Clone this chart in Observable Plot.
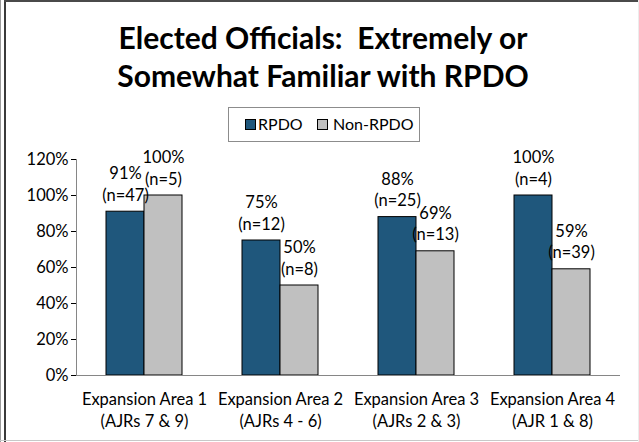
<!DOCTYPE html>
<html>
<head>
<meta charset="utf-8">
<script src="https://cdn.jsdelivr.net/npm/d3@7"></script>
<script src="https://cdn.jsdelivr.net/npm/@observablehq/plot@0.6"></script>
<style>
  html, body { margin: 0; padding: 0; background: #fff; }
  #wrap { position: relative; width: 639px; height: 442px; overflow: hidden; background: #fff; font-family: Lato, sans-serif; }
  .edge { position: absolute; }
  #title { position: absolute; left: 0; width: 646px; top: 18px; text-align: center; font-weight: bold; font-size: 30px; line-height: 38px; color: #000; white-space: nowrap; }
  #legend { position: absolute; left: 228px; top: 107px; width: 190px; height: 33px; border: 1px solid #8c8c8c; box-sizing: content-box; font-size: 16px; }
  .sw { position: absolute; top: 11px; width: 9px; height: 9px; border: 1px solid #000; }
  .lt { position: absolute; top: 7px; line-height: 18px; }
  #chart { position: absolute; left: 0; top: 145px; }
  #chart svg line, #chart svg path.domain { stroke: #868686; }
</style>
</head>
<body>
<div id="wrap">
  <div class="edge" style="left:0;top:0;width:1px;height:442px;background:#9a9a9a"></div>
  <div class="edge" style="left:4px;top:0;width:2px;height:442px;background:#3a3a3a"></div>
  <div class="edge" style="left:4px;top:0;width:635px;height:2px;background:#4a4a4a"></div>
  <div class="edge" style="left:0;top:440px;width:639px;height:1px;background:#c8c8c8"></div>
  <div class="edge" style="left:638px;top:0;width:1px;height:442px;background:#ececec"></div>
  <div id="title"></div>
  <div id="legend"></div>
  <div id="chart"></div>
</div>
<script>
const titleLines = ["Elected Officials:\u00a0 Extremely or", "Somewhat Familiar with RPDO"];
const categories = ["Expansion Area 1", "Expansion Area 2", "Expansion Area 3", "Expansion Area 4"];
const subLabels = ["(AJRs 7 & 9)", "(AJRs 4 - 6)", "(AJRs 2 & 3)", "(AJR 1 & 8)"];
const series = ["RPDO", "Non-RPDO"];
const colors = ["#1f577c", "#c0c0c0"];
const rpdoValues = [91, 75, 88, 100];
const rpdoN = [47, 12, 25, 4];
const nonRpdoValues = [100, 50, 69, 59];
const nonRpdoN = [5, 8, 13, 39];
const yTicks = [0, 20, 40, 60, 80, 100, 120];

const data = [];
categories.forEach((c, i) => {
  data.push({category: c, series: series[0], value: rpdoValues[i], n: rpdoN[i]});
  data.push({category: c, series: series[1], value: nonRpdoValues[i], n: nonRpdoN[i]});
});

document.getElementById("title").innerHTML = titleLines.join("<br>");

const legend = document.getElementById("legend");
const legendPos = [[16, 29], [88, 104]];
series.forEach((s, i) => {
  const sw = document.createElement("div");
  sw.className = "sw";
  sw.style.left = legendPos[i][0] + "px";
  sw.style.background = colors[i];
  legend.appendChild(sw);
  const t = document.createElement("div");
  t.className = "lt";
  t.style.left = legendPos[i][1] + "px";
  t.textContent = s;
  legend.appendChild(t);
});

const W = 639, H = 297, mL = 75, mR = 19, mT = 14, mB = 67;
const halfBand = (W - mL - mR) / categories.length / 2;

const plot = Plot.plot({
  width: W,
  height: H,
  marginLeft: mL,
  marginRight: mR,
  marginTop: mT,
  marginBottom: mB,
  style: {fontFamily: "Lato, sans-serif", fontSize: "16.5px", color: "#000", background: "transparent"},
  fx: {domain: categories, padding: 0, axis: null},
  x: {domain: series, paddingInner: 0, paddingOuter: 0.75, axis: null},
  y: {domain: [0, 120], ticks: yTicks, tickFormat: d => d + "%", tickSize: 5, tickPadding: 3, label: null, line: true},
  color: {domain: series, range: colors},
  marks: [
    Plot.barY(data, {fx: "category", x: "series", y: "value", fill: "series", stroke: "#000", strokeWidth: 1}),
    Plot.ruleY([0], {stroke: "#868686"}),
    Plot.ruleX(categories, {fx: d => d, y1: 0, y2: 0, insetBottom: -5, dx: -halfBand, stroke: "#868686"}),
    Plot.ruleX(categories.slice(-1), {fx: d => d, y1: 0, y2: 0, insetBottom: -5, dx: halfBand, stroke: "#868686"}),
    Plot.text(data, {fx: "category", x: "series", y: "value", text: d => `${d.value}%\n(n=${d.n})`, lineAnchor: "bottom", lineHeight: 1.3, dy: -11, fontSize: 16.5, fill: "#000"}),
    Plot.text(categories, {fx: d => d, text: d => d + "\n" + subLabels[categories.indexOf(d)], frameAnchor: "bottom", lineAnchor: "top", dy: 14, lineHeight: 1.33, fontSize: 16.5, fill: "#000"})
  ]
});
document.getElementById("chart").appendChild(plot);
</script>
</body>
</html>
